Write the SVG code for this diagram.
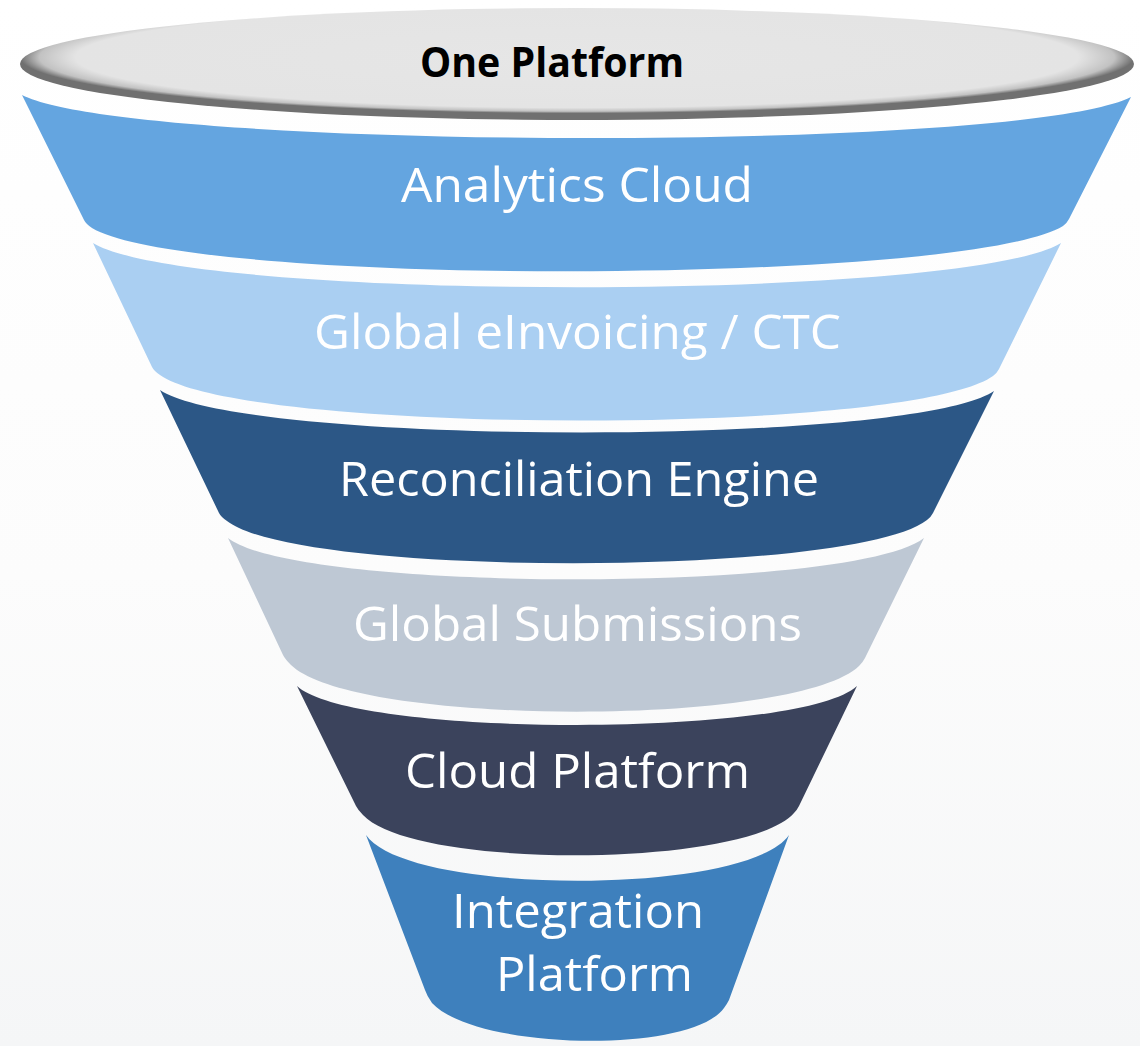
<svg xmlns="http://www.w3.org/2000/svg" width="1140" height="1046" viewBox="0 0 1140 1046">
<defs>
<linearGradient id="bg" x1="0" y1="0" x2="0" y2="1">
<stop offset="0" stop-color="#ffffff"/>
<stop offset="0.55" stop-color="#fcfcfc"/>
<stop offset="1" stop-color="#f5f6f7"/>
</linearGradient>
<radialGradient id="rim" cx="0.5" cy="0.44" r="0.5">
<stop offset="0" stop-color="#e6e6e6"/>
<stop offset="0.9" stop-color="#e4e4e4"/>
<stop offset="0.965" stop-color="#c2c2c2"/>
<stop offset="1" stop-color="#707070"/>
</radialGradient>
<style>
.lbl{font-family:"Open Sans","Liberation Sans",sans-serif;font-size:48px;fill:#ffffff;text-anchor:middle}
.top{font-family:"Open Sans","Liberation Sans",sans-serif;font-size:42px;font-weight:bold;fill:#000000;text-anchor:middle}
</style>
</defs>
<rect width="1140" height="1046" fill="url(#bg)"/>
<g id="connectors"></g>
<g id="band-integration">
<path d="M366,835 L425,990 Q427,996 432,1003 C475,1050 690,1055 724,1008 Q727,1004 729,1000 L789,835 C747,896 408,896 366,835 Z" fill="#3e80bd"/>
<text class="lbl" x="578" y="928" textLength="252" lengthAdjust="spacingAndGlyphs">Integration</text>
<text class="lbl" x="594.5" y="991" textLength="197" lengthAdjust="spacingAndGlyphs">Platform</text>
</g>
<g id="band-cloud">
<path d="M297,686 L356,806 Q358,810 363,815 C415,870 745,868 794,813 Q797,810 799,806 L857,686 C801,738 353,738 297,686 Z" fill="#3b435c"/>
<text class="lbl" x="577.5" y="788" textLength="345" lengthAdjust="spacingAndGlyphs">Cloud Platform</text>
</g>
<g id="band-submissions">
<path d="M228,538 L283,655 Q285,659 291,665 C355,727 795,727 859,666 Q863,662 865,658 L924,538 C854,593 298,593 228,538 Z" fill="#bec8d4"/>
<text class="lbl" x="577.5" y="641" textLength="449" lengthAdjust="spacingAndGlyphs">Global Submissions</text>
</g>
<g id="band-reconciliation">
<path d="M160,390 L219,513 Q221,517 227,521 C300,578 855,577 927,520 Q931,517 933,513 L994,391 C911,447 243,446 160,390 Z" fill="#2c5786"/>
<text class="lbl" x="579" y="496" textLength="480" lengthAdjust="spacingAndGlyphs">Reconciliation Engine</text>
</g>
<g id="band-einvoicing">
<path d="M93,243 L152,367 Q154,371 160,375 C245,435 908,436 993,376 Q997,373 999,369 L1061,243 C964,302 190,302 93,243 Z" fill="#aacff2"/>
<text class="lbl" x="577.5" y="349" textLength="527" lengthAdjust="spacingAndGlyphs">Global eInvoicing / CTC</text>
</g>
<g id="band-analytics">
<path d="M22,95 L84,220 Q86,224 92,228 C190,287 965,285 1063,226 Q1067,223 1069,219 L1131,97 C1020,153 133,151 22,95 Z" fill="#64a5e0"/>
<text class="lbl" x="577" y="202" textLength="352" lengthAdjust="spacingAndGlyphs">Analytics Cloud</text>
</g>
<g id="one-platform">
<ellipse cx="577" cy="64" rx="557" ry="56" fill="url(#rim)"/>
<text class="top" x="552" y="77" textLength="264" lengthAdjust="spacingAndGlyphs">One Platform</text>
</g>
</svg>
